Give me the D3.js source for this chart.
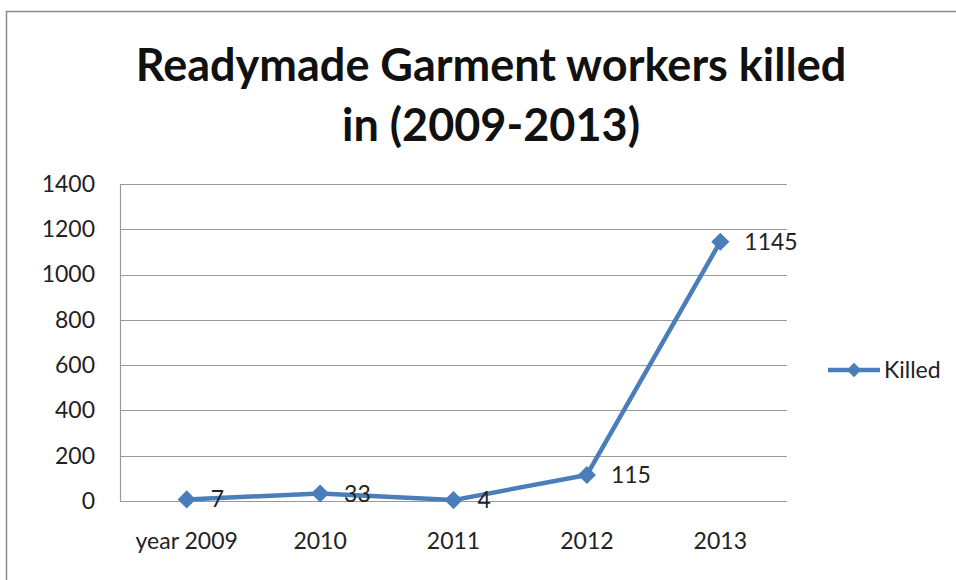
<!DOCTYPE html>
<html>
<head>
<meta charset="utf-8">
<script src="https://cdn.jsdelivr.net/npm/d3@7"></script>
<style>
  html,body{margin:0;padding:0;background:#fff;}
  svg{display:block;}
  text{font-family:Lato,"Open Sans",sans-serif;}
</style>
</head>
<body>
<svg id="chart" width="956" height="580"></svg>
<script>
/* 縫製労働者の死者数 2009-2013 */
const categories = ["year 2009","2010","2011","2012","2013"];
const killed     = [7, 33, 4, 115, 1145];
const yTicks     = [0,200,400,600,800,1000,1200,1400];
const titleLines = ["Readymade Garment workers killed","in (2009-2013)"];
const seriesName = "Killed";

const W = 956, H = 580;
const m = {left:120, right:169, top:184, bottom:79};
const BLUE = "#4A7EBB";
const FS = 23;

const svg = d3.select("#chart");

/* 外枠 */
svg.append("rect").attr("x",6.5).attr("y",11.5)
  .attr("width",W).attr("height",H)
  .attr("fill","none").attr("stroke","#8c8c8c").attr("stroke-width",1.5);

const x = d3.scaleBand().domain(categories).range([m.left, W-m.right]);
const y = d3.scaleLinear().domain([0,1400]).range([H-m.bottom, m.top]);

/* グリッド */
svg.append("g").selectAll("line").data(yTicks).join("line")
  .attr("x1",m.left).attr("x2",W-m.right)
  .attr("y1",d=>Math.round(y(d))+0.5).attr("y2",d=>Math.round(y(d))+0.5)
  .attr("stroke","#9a9a9a").attr("stroke-width",1.2);
svg.append("line")
  .attr("x1",m.left+0.5).attr("x2",m.left+0.5)
  .attr("y1",y(1400)).attr("y2",y(0))
  .attr("stroke","#9a9a9a").attr("stroke-width",1.2);

/* 軸ラベル */
const yAxis = d3.axisLeft(y).tickValues(yTicks).tickFormat(d3.format("d"))
  .tickSize(0).tickPadding(25);
const gy = svg.append("g").attr("transform",`translate(${m.left},0)`).call(yAxis);
gy.select(".domain").remove();
gy.selectAll("text").attr("font-size",FS).attr("fill","#222")
  .style("font-family","Lato,'Open Sans',sans-serif");

const xAxis = d3.axisBottom(x).tickSize(0).tickPadding(32);
const gx = svg.append("g").attr("transform",`translate(0,${y(0)})`).call(xAxis);
gx.select(".domain").remove();
gx.selectAll("text").attr("font-size",FS).attr("fill","#222")
  .style("font-family","Lato,'Open Sans',sans-serif");

/* 折れ線 */
const cx = d => x(d) + x.bandwidth()/2;
const pts = categories.map((c,i)=>[cx(c), y(killed[i])]);
svg.append("path").datum(pts)
  .attr("d", d3.line())
  .attr("fill","none").attr("stroke",BLUE).attr("stroke-width",4.5)
  .attr("stroke-linejoin","round");

const diamond = d3.symbol().type(d3.symbolDiamond2).size(210);
svg.append("g").selectAll("path").data(pts).join("path")
  .attr("transform",d=>`translate(${d[0]},${d[1]})`)
  .attr("d",diamond).attr("fill",BLUE);

/* データラベル */
svg.append("g").selectAll("text").data(killed).join("text")
  .attr("x",(d,i)=>pts[i][0]+24)
  .attr("y",(d,i)=>pts[i][1]+8)
  .attr("font-size",FS).attr("fill","#222")
  .text(d=>d);

/* 凡例 */
const lg = svg.append("g").attr("transform","translate(828,370)");
lg.append("line").attr("x1",0).attr("x2",52).attr("y1",0).attr("y2",0)
  .attr("stroke",BLUE).attr("stroke-width",4.5);
lg.append("path").attr("transform","translate(26,0)")
  .attr("d",d3.symbol().type(d3.symbolDiamond2).size(130)).attr("fill",BLUE);
lg.append("text").attr("x",56).attr("y",8).attr("font-size",FS)
  .attr("fill","#222").text(seriesName);

/* タイトル */
svg.append("g").selectAll("text").data(titleLines).join("text")
  .attr("x",491).attr("y",(d,i)=>81+i*60)
  .attr("text-anchor","middle")
  .attr("font-size",45).attr("font-weight","bold").attr("fill","#111")
  .text(d=>d);
</script>
</body>
</html>
